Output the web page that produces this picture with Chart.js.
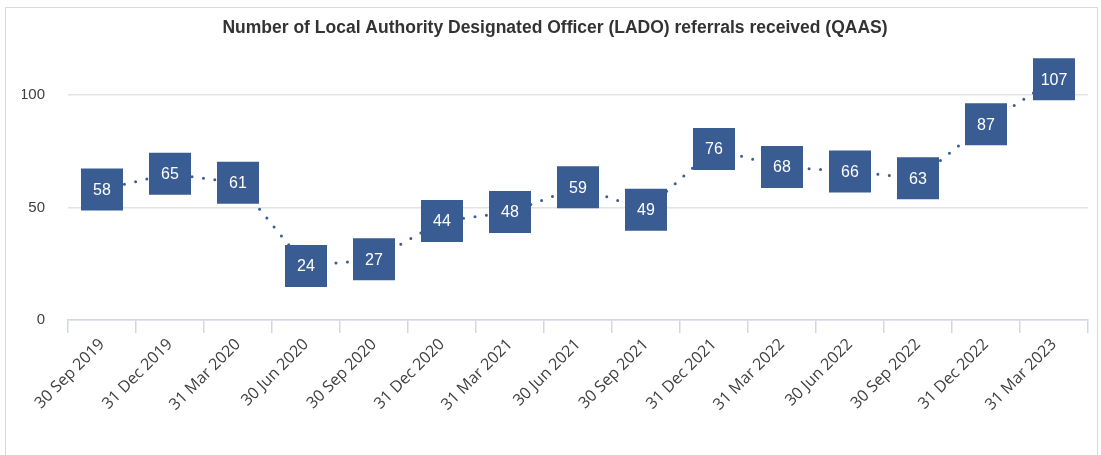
<!DOCTYPE html>
<html>
<head>
<meta charset="utf-8">
<script src="https://cdn.jsdelivr.net/npm/chart.js@4.4.1/dist/chart.umd.min.js"></script>
<style>
  body { margin: 0; background: #fff; }
  #frame { position: absolute; left: 5px; top: 7px; width: 1093px; height: 470px; border: 1.5px solid #d9d9d9; box-sizing: border-box; }
  #wrap { position: absolute; left: 0; top: 0; width: 1101px; height: 455px; }
</style>
</head>
<body>
<div id="frame"></div>
<div id="wrap"><canvas id="lado" width="1101" height="455"></canvas></div>
<script>
// quarter-end dates and LADO referral counts
let quarters = ["30 Sep 2019","31 Dec 2019","31 Mar 2020","30 Jun 2020","30 Sep 2020","31 Dec 2020","31 Mar 2021","30 Jun 2021","30 Sep 2021","31 Dec 2021","31 Mar 2022","30 Jun 2022","30 Sep 2022","31 Dec 2022","31 Mar 2023"];
let referrals = [58,65,61,24,27,44,48,59,49,76,68,66,63,87,107];
let yTicks = [0,50,100];

const blue = "#395c92";
const font = "'Liberation Sans', Arial, sans-serif";

// white numbers inside the square markers
const boxLabels = {
    id: "boxLabels",
    afterDatasetsDraw(chart) {
        let ctx = chart.ctx;
        let meta = chart.getDatasetMeta(0);
        ctx.save();
        ctx.fillStyle = "#fff";
        ctx.font = "16px " + font;
        ctx.textAlign = "center";
        ctx.textBaseline = "middle";
        meta.data.forEach((pt, i) => {
            ctx.fillText(referrals[i], pt.x, pt.y + 1);
        });
        ctx.restore();
    }
};

new Chart(document.getElementById("lado"), {
    type: "line",
    data: {
        labels: quarters,
        datasets: [{
            data: referrals,
            borderColor: blue,
            borderWidth: 3,
            borderDash: [0, 11.5],
            borderCapStyle: "round",
            pointStyle: "rect",
            pointRadius: 29.7,
            pointHoverRadius: 29.7,
            pointBackgroundColor: blue,
            pointBorderWidth: 0,
            tension: 0,
            clip: false
        }]
    },
    plugins: [boxLabels],
    options: {
        responsive: false,
        animation: false,
        devicePixelRatio: 1,
        layout: { autoPadding: false, padding: { left: 22, right: 13, top: 0, bottom: 0 } },
        plugins: {
            legend: { display: false },
            tooltip: { enabled: false },
            title: {
                display: true,
                text: "Number of Local Authority Designated Officer (LADO) referrals received (QAAS)",
                color: "#333",
                font: { family: font, size: 17.5, weight: "bold", lineHeight: 1.2 },
                padding: { top: 17.5, bottom: 11.5 }
            }
        },
        scales: {
            x: {
                offset: true,
                grid: {
                    offset: true,
                    drawOnChartArea: false,
                    drawTicks: true,
                    tickLength: 13,
                    color: "#cdd8ea",
                    lineWidth: 1.5
                },
                border: { color: "#cdd8ea", width: 1.5 },
                ticks: {
                    color: "#404040",
                    font: { family: "'Open Sans', sans-serif", size: 16 },
                    maxRotation: 45,
                    minRotation: 45,
                    autoSkip: false,
                    padding: 2
                },
                afterFit(scale) {
                    scale.height = 135;
                    scale.paddingLeft = 0;
                    scale.paddingRight = 0;
                }
            },
            y: {
                min: 0,
                max: 120,
                afterBuildTicks(scale) {
                    scale.ticks = yTicks.map(v => ({ value: v }));
                },
                grid: { color: "#e3e3e3", lineWidth: 1.5, drawTicks: false },
                border: { display: false },
                ticks: {
                    color: "#404040",
                    font: { family: font, size: 15 },
                    padding: 23
                },
                afterFit(scale) { scale.width = 46; }
            }
        }
    }
});
</script>
</body>
</html>
